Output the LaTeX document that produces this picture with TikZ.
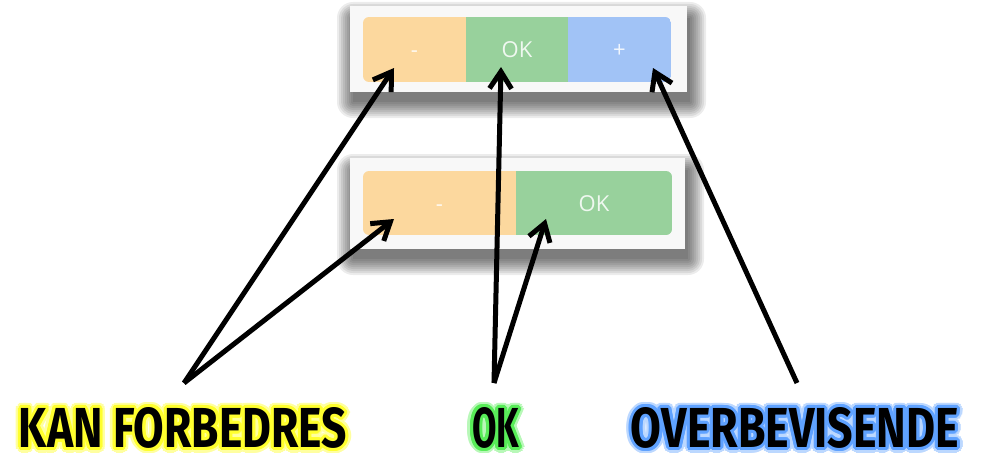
\documentclass[tikz,border=0pt]{standalone}
\usepackage{fontspec}
\usepackage{graphicx}
\setmainfont{Open Sans}
\newfontfamily\labelfont{Fira Sans}
\usetikzlibrary{arrows.meta}
\definecolor{cOrange}{HTML}{FCD89E}
\definecolor{cGreen}{HTML}{98D19C}
\definecolor{cBlue}{HTML}{A1C3F6}
\definecolor{cPanel}{HTML}{F8F8F8}
\definecolor{gYellowIn}{HTML}{FFFF2E}
\definecolor{gYellowOut}{HTML}{FFFFA0}
\definecolor{gGreenIn}{HTML}{58EC58}
\definecolor{gGreenOut}{HTML}{B8F8B8}
\definecolor{gBlueIn}{HTML}{5FA2FF}
\definecolor{gBlueOut}{HTML}{BCD8FF}
\tikzset{
  panelbox/.style={draw=none, fill=cPanel, inner sep=0pt},
  shadowlayer/.style={fill=black, fill opacity=0.075, draw=none},
  btn/.style={draw=none, inner sep=0pt, text=white, text opacity=0.85,
    font=\fontsize{22}{22}\selectfont, text height=16pt, text depth=0pt},
  arr/.style={line width=5pt, -{Straight Barb[length=17pt,width=22pt]}},
  biglabel/.style={inner sep=0pt}
}
\newcommand\kfText{\resizebox{328pt}{40pt}{\labelfont\bfseries KAN FORBEDRES}}
\newcommand\okText{\resizebox{47pt}{40pt}{\labelfont\bfseries OK}}
\newcommand\ovText{\resizebox{328pt}{40pt}{\labelfont\bfseries OVERBEVISENDE}}
% soft shadow: x1 y1 x2 y2 of the panel
\newcommand\softshadow[4]{%
  \foreach \r in {16,14,...,0}{%
    \fill[shadowlayer, rounded corners=\r pt]
      ({#1+3-\r},{#2+12-\r}) rectangle ({#3+3+\r},{#4+10+\r});
  }}
\begin{document}
\begin{tikzpicture}[x=1pt,y=-1pt]
\useasboundingbox (0,0) rectangle (981,452);
\fill[white] (0,0) rectangle (981,452);

% shadows
\softshadow{350}{6}{687}{92}
\softshadow{350}{158}{685}{249}

% panels
\node[panelbox, minimum width=337pt, minimum height=86pt] (p1) at (518.5,49) {};
\node[panelbox, minimum width=335pt, minimum height=91pt] (p2) at (517.5,203.5) {};

% top button group
\begin{scope}
  \clip[rounded corners=6pt] (363,17) rectangle (671,82);
  \node[btn, fill=cOrange, minimum width=103pt, minimum height=65pt] (b1) at (414.5,49.5) {-};
  \node[btn, fill=cGreen, minimum width=102pt, minimum height=65pt] (b2) at (517,49.5) {OK};
  \node[btn, fill=cBlue, minimum width=103pt, minimum height=65pt] (b3) at (619.5,49.5) {+};
\end{scope}

% bottom button group
\begin{scope}
  \clip[rounded corners=6pt] (363,171) rectangle (672,235);
  \node[btn, fill=cOrange, minimum width=153pt, minimum height=64pt] (c1) at (439.5,203) {-};
  \node[btn, fill=cGreen, minimum width=156pt, minimum height=64pt] (c2) at (594,203) {OK};
\end{scope}

% label glows
\foreach \a in {0,22.5,...,337.5}{
  \node[biglabel, text=gYellowOut] (g1o\a) at ([shift={(\a:5.5)}]183,428) {\kfText};
  \node[biglabel, text=gGreenOut] (g2o\a) at ([shift={(\a:5.5)}]495.5,428) {\okText};
  \node[biglabel, text=gBlueOut] (g3o\a) at ([shift={(\a:5.5)}]795,428) {\ovText};
}
\foreach \a in {0,22.5,...,337.5}{
  \node[biglabel, text=gYellowIn] (g1i\a) at ([shift={(\a:3)}]183,428) {\kfText};
  \node[biglabel, text=gGreenIn] (g2i\a) at ([shift={(\a:3)}]495.5,428) {\okText};
  \node[biglabel, text=gBlueIn] (g3i\a) at ([shift={(\a:3)}]795,428) {\ovText};
}
% labels
\node[biglabel] (l1) at (183,428) {\kfText};
\node[biglabel] (l2) at (495.5,428) {\okText};
\node[biglabel] (l3) at (795,428) {\ovText};

% arrow ends
\coordinate (t1) at (184,383);
\coordinate (t2) at (494,383);
\coordinate (t3) at (797,383);
\coordinate (h1) at (394,68);
\coordinate (h2) at (394,219);
\coordinate (h3) at (501,67);
\coordinate (h4) at (546,219);
\coordinate (h5) at (653,68);

\draw[arr] (t1) -- (h1);
\draw[arr] (t1) -- (h2);
\draw[arr] (t2) -- (h3);
\draw[arr] (t2) -- (h4);
\draw[arr] (t3) -- (h5);
\end{tikzpicture}
\end{document}
